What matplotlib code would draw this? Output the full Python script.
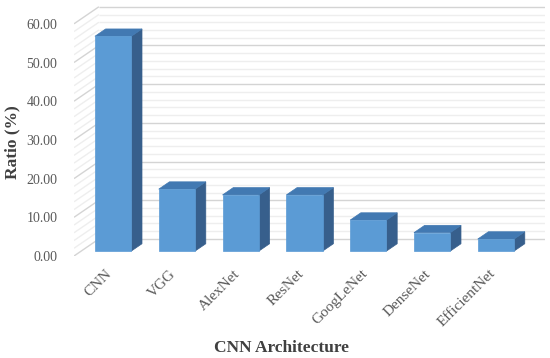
import matplotlib
matplotlib.use('Agg')
import matplotlib.pyplot as plt
from matplotlib.patches import Polygon

# data
architectures = ['CNN', 'VGG', 'AlexNet', 'ResNet', 'GoogLeNet', 'DenseNet', 'EfficientNet']
ratios = [55.5, 16.0, 14.5, 14.5, 8.0, 4.75, 3.1]
yticks = [0, 10, 20, 30, 40, 50, 60]
minor_step = 2

plt.rcParams['font.family'] = ['Liberation Serif', 'DejaVu Serif']

# fake 3D: full floor depth in data units and bar placement inside it
DX, DY = 0.39, 4.4
T_FRONT, T_BACK = 0.29, 0.72
BAR_W = 0.57

FRONT = '#5B9BD5'
TOP = '#4279B2'
SIDE = '#375F8C'
MAJOR = '#D4D4D4'
MINOR = '#EEEEEE'

fig = plt.figure(figsize=(5.5, 3.58), dpi=100)
W, H = 550, 358
# pixel layout: x=-0.5 -> 74px, 63.8 px per category; y=0 -> 256px, 3.87 px per unit
ymax = 65
x0 = -0.5
x1 = len(architectures) - 0.5 + DX
left_px = 74
right_px = left_px + (x1 - x0) * 63.8
top_px = 256 - ymax * 3.87
ax = fig.add_axes([left_px / W, (H - 256) / H, (right_px - left_px) / W, (256 - top_px) / H])
ax.set_xlim(x0, x1)
ax.set_ylim(0, ymax)
for s in ax.spines.values():
    s.set_visible(False)

# walls: back wall horizontal lines and left side wall diagonals
levels = list(range(0, yticks[-1] + 1, minor_step))
for lv in levels:
    major = lv % 10 == 0
    c = MAJOR if major else MINOR
    ax.plot([x0 + DX, x1], [lv + DY, lv + DY], color=c, lw=1.0, zorder=1 if major else 0.5,
            solid_capstyle='butt')
    ax.plot([x0, x0 + DX], [lv, lv + DY], color=c, lw=1.0, zorder=1 if major else 0.5,
            solid_capstyle='butt')

# bars
for i, v in enumerate(ratios):
    xl = i - BAR_W / 2
    xr = i + BAR_W / 2
    fx, fy = T_FRONT * DX, T_FRONT * DY
    bx, by = T_BACK * DX, T_BACK * DY
    side = Polygon([(xr + fx, fy), (xr + bx, by), (xr + bx, v + by), (xr + fx, v + fy)],
                   closed=True, facecolor=SIDE, edgecolor=SIDE, lw=0.5, zorder=3)
    top = Polygon([(xl + fx, v + fy), (xr + fx, v + fy), (xr + bx, v + by), (xl + bx, v + by)],
                  closed=True, facecolor=TOP, edgecolor=TOP, lw=0.5, zorder=3)
    ax.add_patch(side)
    ax.add_patch(top)
ax.bar([i + T_FRONT * DX for i in range(len(ratios))], ratios, width=BAR_W,
       bottom=T_FRONT * DY, color=FRONT, edgecolor=FRONT, lw=0.5, zorder=4)

# ticks
ax.set_yticks(yticks)
ax.set_yticklabels(['%.2f' % t for t in yticks])
ax.tick_params(axis='y', length=0, pad=12, labelsize=10, labelcolor='#595959')
ax.set_xticks([i + T_FRONT * DX - 0.12 for i in range(len(architectures))])
ax.set_xticklabels(architectures, rotation=45, ha='right', va='top', rotation_mode='anchor')
ax.tick_params(axis='x', length=0, pad=8, labelsize=11, labelcolor='#595959')

fig.text(12 / W, 1 - 142 / H, 'Ratio (%)', rotation=90, ha='center', va='center',
         fontsize=12.5, fontweight='bold', color='#404040')
fig.text(281 / W, 1 - 348 / H, 'CNN Architecture', ha='center', va='center',
         fontsize=12.5, fontweight='bold', color='#404040')

fig.savefig('out.png', dpi=100)
